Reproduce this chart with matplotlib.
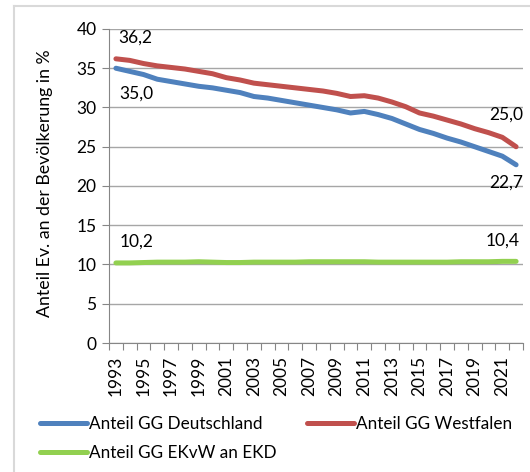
import matplotlib.pyplot as plt
import numpy as np
from matplotlib.lines import Line2D

plt.rcParams["font.family"] = ["Lato", "DejaVu Sans"]

years = np.arange(1993, 2023)

# share of Protestants in the population, in %
deutschland = [35.0, 34.6, 34.2, 33.6, 33.3, 33.0, 32.7, 32.5, 32.2, 31.9,
               31.4, 31.2, 30.9, 30.6, 30.3, 30.0, 29.7, 29.3, 29.5, 29.1,
               28.6, 27.9, 27.2, 26.7, 26.1, 25.6, 25.0, 24.4, 23.8, 22.7]
westfalen = [36.2, 36.0, 35.6, 35.3, 35.1, 34.9, 34.6, 34.3, 33.8, 33.5,
             33.1, 32.9, 32.7, 32.5, 32.3, 32.1, 31.8, 31.4, 31.5, 31.2,
             30.7, 30.1, 29.3, 28.9, 28.4, 27.9, 27.3, 26.8, 26.2, 25.0]
ekvw_an_ekd = [10.2, 10.2, 10.25, 10.3, 10.3, 10.3, 10.35, 10.3, 10.25, 10.25,
               10.3, 10.3, 10.3, 10.3, 10.35, 10.35, 10.35, 10.35, 10.35, 10.3,
               10.3, 10.3, 10.3, 10.3, 10.3, 10.35, 10.35, 10.35, 10.4, 10.4]

series = [
    ("Anteil GG Deutschland", deutschland, "#4F81BD"),
    ("Anteil GG Westfalen", westfalen, "#C0504D"),
    ("Anteil GG EKvW an EKD", ekvw_an_ekd, "#92D050"),
]

fig = plt.figure(figsize=(5.30, 4.72), dpi=100)
ax = fig.add_axes([0.2057, 0.2733, 0.7811, 0.6653])

handles = {}
for name, values, color in series:
    (line,) = ax.plot(years, values, color=color, linewidth=3.6,
                      solid_capstyle="round", zorder=3)
    handles[name] = line

ax.set_ylim(0, 40)
ax.set_yticks(np.arange(0, 41, 5))
ax.set_xlim(years[0] - 0.5, years[-1] + 0.5)
ax.set_xticks(np.arange(years[0] - 0.5, years[-1] + 1, 1))
ax.set_xticklabels([])
ax.set_xticks(years[::2], minor=True)
ax.set_xticklabels([str(y) for y in years[::2]], minor=True, rotation=90)

ax.tick_params(axis="x", which="major", length=5, color="#868686")
ax.tick_params(axis="x", which="minor", length=0, pad=9, labelsize=12.5)
ax.tick_params(axis="y", length=5, color="#868686", labelsize=12.5, pad=4)

ax.grid(axis="y", color="#a6a6a6", linewidth=1)
ax.set_axisbelow(True)
for side in ("top", "right"):
    ax.spines[side].set_visible(False)
for side in ("left", "bottom"):
    ax.spines[side].set_color("#868686")
    ax.spines[side].set_zorder(4)

ax.set_ylabel("Anteil Ev. an der Bevölkerung in %", fontsize=12.8)
ax.yaxis.set_label_coords(-0.135, 0.51)

# value labels at the first and last year
labels = [
    (years[0], deutschland[0], (3, -25), "left"),
    (years[0], westfalen[0], (2, 21), "left"),
    (years[0], ekvw_an_ekd[0], (4, 21), "left"),
    (years[-1], deutschland[-1], (7, -18), "right"),
    (years[-1], westfalen[-1], (7, 32), "right"),
    (years[-1], ekvw_an_ekd[-1], (4, 21), "right"),
]
for x, y, offset, ha in labels:
    ax.annotate(f"{y:.1f}".replace(".", ","), xy=(x, y), xytext=offset,
                textcoords="offset pixels", ha=ha, va="center",
                fontsize=12.5, annotation_clip=False)

order = ["Anteil GG Deutschland", "Anteil GG EKvW an EKD", "Anteil GG Westfalen"]
fig.legend([handles[n] for n in order], order, ncol=2, frameon=False,
           loc="upper left", bbox_to_anchor=(0.0755, 0.118),
           borderpad=0, borderaxespad=0, handlelength=2.75,
           handletextpad=0.12, columnspacing=1.75, labelspacing=0.72,
           fontsize=12.3)

# light chart border along the top and left
fig.add_artist(Line2D([14 / 530, 14 / 530], [0, 1 - 6 / 472],
                      transform=fig.transFigure, color="#d9d9d9", linewidth=1.5))
fig.add_artist(Line2D([14 / 530, 1], [1 - 6 / 472, 1 - 6 / 472],
                      transform=fig.transFigure, color="#d9d9d9", linewidth=1.5))

fig.savefig("out.png", dpi=100)
